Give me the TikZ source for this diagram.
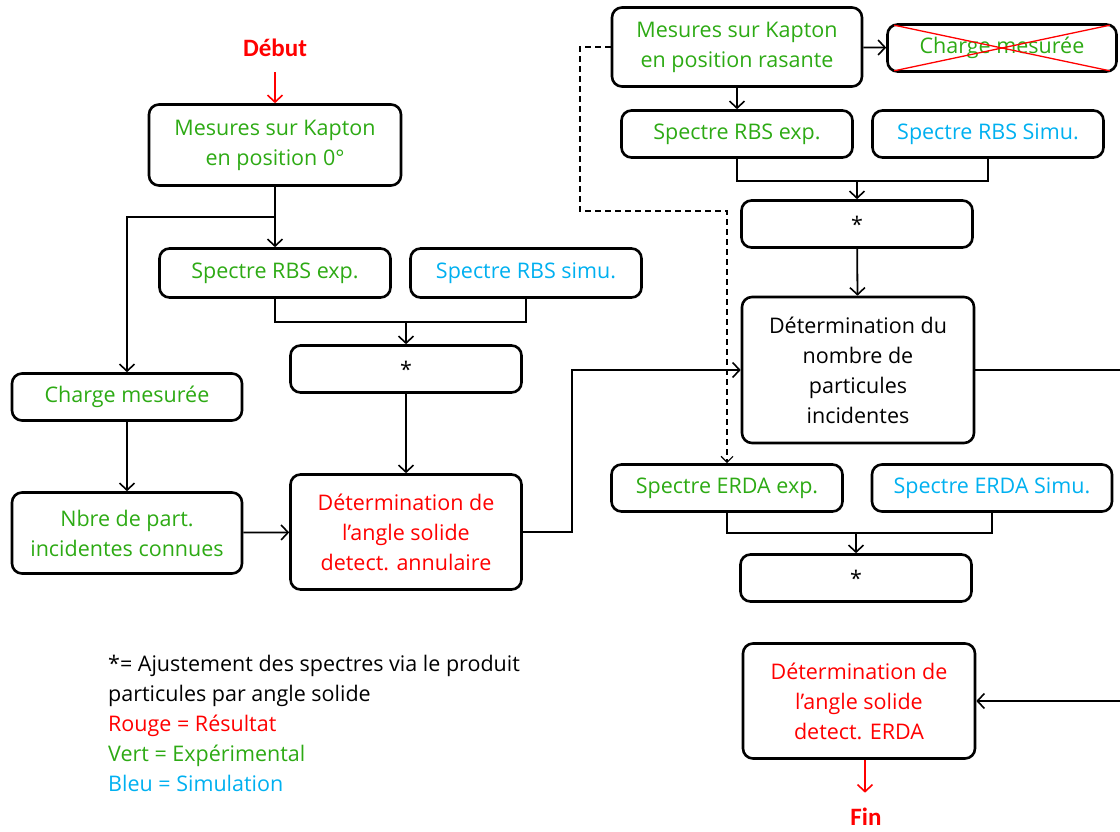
\documentclass[tikz,border=0pt]{standalone}
\usepackage{fontspec}
\setmainfont{Open Sans}
\newfontfamily\boldfam{Carlito}
\usetikzlibrary{arrows.meta}
\definecolor{vert}{RGB}{45,170,20}
\definecolor{bleu}{RGB}{0,176,240}
\definecolor{rouge}{RGB}{255,0,0}
\begin{document}
\begin{tikzpicture}[x=1pt,y=-1pt,
  box/.style={draw=black,line width=2.6pt,rounded corners=10pt,inner sep=0pt,align=center,font=\fontsize{21.5}{30}\selectfont},
  conn/.style={line width=1.8pt,black},
  arr/.style={conn,-{Straight Barb[length=7pt,width=15pt,line width=1.6pt]}},
  exp/.style={text=vert},
  sim/.style={text=bleu},
  res/.style={text=rouge},
  endlbl/.style={font=\boldfam\fontsize{25}{28}\selectfont\bfseries,text=rouge}]
\path[use as bounding box] (0,0) rectangle (1120,832);

% left column
\node[endlbl] (debut) at (275,48) {Début};
\node[box,exp,minimum width=252pt,minimum height=81pt] (A) at (275,145) {Mesures sur Kapton\\en position 0°};
\node[box,exp,minimum width=231pt,minimum height=49pt] (B1) at (275,273) {Spectre RBS exp.};
\node[box,sim,minimum width=231pt,minimum height=49pt] (B2) at (526,273) {Spectre RBS simu.};
\node[box,minimum width=231pt,minimum height=47pt] (S1) at (406,369) {*};
\node[box,exp,minimum width=230pt,minimum height=47pt] (C) at (127,397) {Charge mesurée};
\node[box,exp,minimum width=230pt,minimum height=81pt] (N) at (127,533) {Nbre de part.\\incidentes connues};
\node[box,res,minimum width=231pt,minimum height=115pt] (D) at (406,532) {Détermination de\\l’angle solide\\detect. annulaire};

% right column
\node[box,exp,minimum width=250pt,minimum height=79pt] (R) at (737,47) {Mesures sur Kapton\\en position rasante};
\node[box,exp,minimum width=229pt,minimum height=47pt] (X) at (1002,48) {Charge mesurée};
\node[box,exp,minimum width=231pt,minimum height=47pt] (E1) at (737,134) {Spectre RBS exp.};
\node[box,sim,minimum width=231pt,minimum height=47pt] (E2) at (988,134) {Spectre RBS Simu.};
\node[box,minimum width=231pt,minimum height=47pt] (S2) at (857,224) {*};
\node[box,minimum width=232pt,minimum height=146pt] (Nb) at (858,370) {Détermination du\\nombre de\\particules\\incidentes};
\node[box,exp,minimum width=231pt,minimum height=47pt] (F1) at (727,488) {Spectre ERDA exp.};
\node[box,sim,minimum width=240pt,minimum height=47pt] (F2) at (992,488) {Spectre ERDA Simu.};
\node[box,minimum width=231pt,minimum height=47pt] (S3) at (856,578) {*};
\node[box,res,minimum width=232pt,minimum height=115pt] (G) at (859,701) {Détermination de\\l’angle solide\\detect. ERDA};
\node[endlbl] (fin) at (866,817) {Fin};

% legend
\node[anchor=north west,align=left,inner sep=0pt,font=\fontsize{21.5}{30}\selectfont] (leg) at (108,655)
  {*= Ajustement des spectres via le produit\\particules par angle solide\\
   \textcolor{rouge}{Rouge = Résultat}\\\textcolor{vert}{Vert = Expérimental}\\\textcolor{bleu}{Bleu = Simulation}};

% coordinates
\coordinate (j1) at (275,217);
\coordinate (m1) at (406,322);
\coordinate (k1) at (572,532);
\coordinate (d1) at (580,211);
\coordinate (m2) at (857,181);
\coordinate (m3) at (856,533);
\coordinate (e1) at (1120,370);
\coordinate (e2) at (1120,701);

% connectors left
\draw[arr,rouge] ([yshift=-12pt]debut.south) -- (A.north);
\draw[conn] (A.south) -- (j1);
\draw[arr] (j1) -- (B1.north);
\draw[arr] (j1) -| (C.north);
\draw[conn] (B1.south) |- (m1) -| (B2.south);
\draw[arr] (m1) -- (S1.north);
\draw[arr] (S1) -- (D);
\draw[arr] (C) -- (N);
\draw[arr] (N) -- (D);
\draw[arr] (D.east) -- (k1) |- (Nb.west);

% connectors right
\draw[arr] (R) -- (X);
\draw[red,line width=1.3pt] ([shift={(8pt,-2pt)}]X.north west) -- ([shift={(-8pt,2pt)}]X.south east);
\draw[red,line width=1.3pt] ([shift={(8pt,2pt)}]X.south west) -- ([shift={(-8pt,-2pt)}]X.north east);
\draw[line width=1.3pt,dash pattern=on 6pt off 4pt,-{Straight Barb[length=6pt,width=12pt,line width=1.2pt]}] (R.west) -| (d1) -| (F1.north);
\draw[arr] (R) -- (E1);
\draw[conn] (E1.south) |- (m2) -| (E2.south);
\draw[arr] (m2) -- (S2.north);
\draw[arr] (S2) -- (Nb);
\draw[conn] (Nb.east) -- (e1);
\draw[conn] (F1.south) |- (m3) -| (F2.south);
\draw[arr] (m3) -- (S3.north);
\draw[arr] (e2) -- (G.east);
\draw[arr,rouge] ([xshift=6pt]G.south) -- ([xshift=-1pt,yshift=12pt]fin.north);
\end{tikzpicture}
\end{document}
